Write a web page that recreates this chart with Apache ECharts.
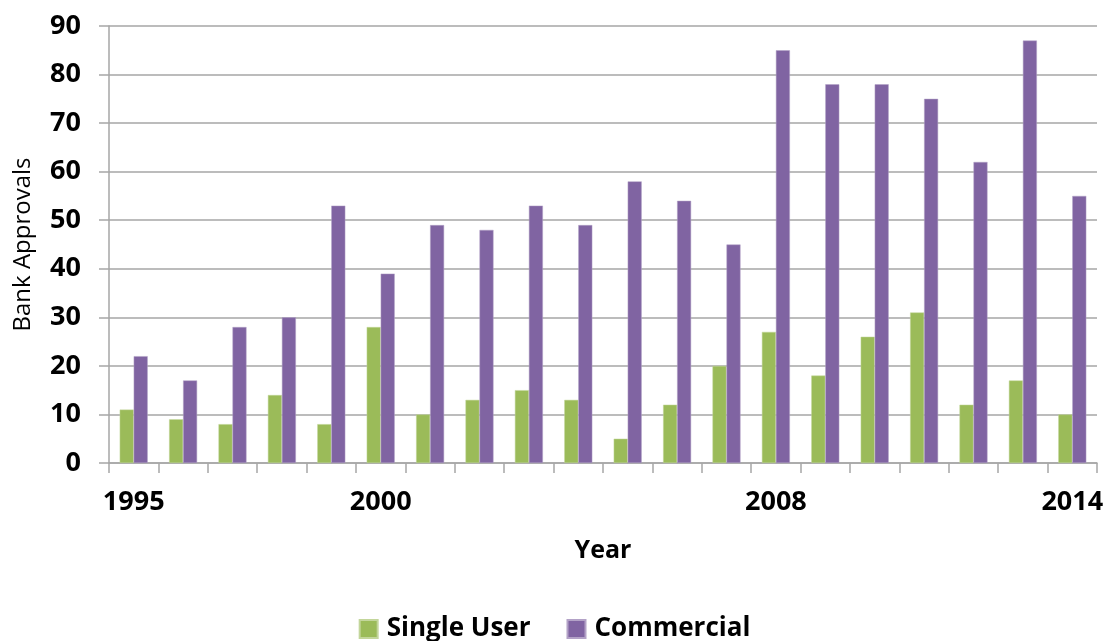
<!DOCTYPE html>
<html>
<head>
<meta charset="utf-8">
<script src="https://cdn.jsdelivr.net/npm/echarts@6/dist/echarts.min.js"></script>
<style>
  html, body { margin: 0; padding: 0; background: #ffffff; }
  #chart { width: 1109px; height: 641px; }
</style>
</head>
<body>
<div id="chart"></div>
<script>
const years = ['1995','1996','1997','1998','1999','2000','2001','2002','2003','2004','2005','2006','2007','2008','2009','2010','2011','2012','2013','2014'];
const shownYearLabels = ['1995','2000','2008','2014'];
const singleUser = [11, 9, 8, 14, 8, 28, 10, 13, 15, 13, 5, 12, 20, 27, 18, 26, 31, 12, 17, 10];
const commercial = [22, 17, 28, 30, 53, 39, 49, 48, 53, 49, 58, 54, 45, 85, 78, 78, 75, 62, 87, 55];
const yTicks = [0, 10, 20, 30, 40, 50, 60, 70, 80, 90];

const FONT = '"Open Sans", "Liberation Sans", sans-serif';
const chart = echarts.init(document.getElementById('chart'), null, { renderer: 'canvas' });

chart.setOption({
  animation: false,
  backgroundColor: '#ffffff',
  textStyle: { fontFamily: FONT },
  grid: { left: 109, right: 12, top: 26, bottom: 178, containLabel: false },
  legend: {
    data: ['Single User', 'Commercial'],
    top: 611,
    left: 'center',
    itemWidth: 18,
    itemHeight: 18,
    itemGap: 36,
    icon: 'rect',
    textStyle: { fontFamily: FONT, fontWeight: 'bold', fontSize: 26, color: '#000', padding: [0, 0, 0, 4] }
  },
  xAxis: {
    type: 'category',
    data: years,
    name: 'Year',
    nameLocation: 'middle',
    nameGap: 75,
    nameTextStyle: { fontFamily: FONT, fontWeight: 'bold', fontSize: 25, color: '#000' },
    axisLine: { show: true, lineStyle: { color: '#A6A6A6', width: 1.5 } },
    axisTick: { show: true, interval: 0, alignWithLabel: false, length: 10, lineStyle: { color: '#A6A6A6', width: 1.5 } },
    axisLabel: {
      interval: 0,
      margin: 26,
      fontFamily: FONT, fontWeight: 'bold', fontSize: 27, color: '#000',
      formatter: (v) => shownYearLabels.includes(v) ? v : ''
    },
    splitLine: { show: false }
  },
  yAxis: {
    type: 'value',
    min: yTicks[0],
    max: yTicks[yTicks.length - 1],
    interval: 10,
    name: 'Bank Approvals',
    nameLocation: 'middle',
    nameGap: 74,
    nameTextStyle: { fontFamily: FONT, fontWeight: 'normal', fontSize: 24, color: '#000' },
    axisLine: { show: true, lineStyle: { color: '#A6A6A6', width: 1.5 } },
    axisTick: { show: true, length: 10, inside: false, lineStyle: { color: '#A6A6A6', width: 1.5 } },
    axisLabel: { margin: 28, fontFamily: FONT, fontWeight: 'bold', fontSize: 27, color: '#000' },
    splitLine: { show: true, lineStyle: { color: '#A6A6A6', width: 1.5 } }
  },
  series: [
    {
      name: 'Single User',
      type: 'bar',
      data: singleUser,
      barWidth: 14,
      barGap: '0%',
      itemStyle: { color: '#9BBB59', borderColor: '#C3D69B', borderWidth: 0.5 }
    },
    {
      name: 'Commercial',
      type: 'bar',
      data: commercial,
      barWidth: 14,
      barGap: '0%',
      itemStyle: { color: '#8064A2', borderColor: '#B3A2C7', borderWidth: 0.5 }
    }
  ]
});
</script>
</body>
</html>
